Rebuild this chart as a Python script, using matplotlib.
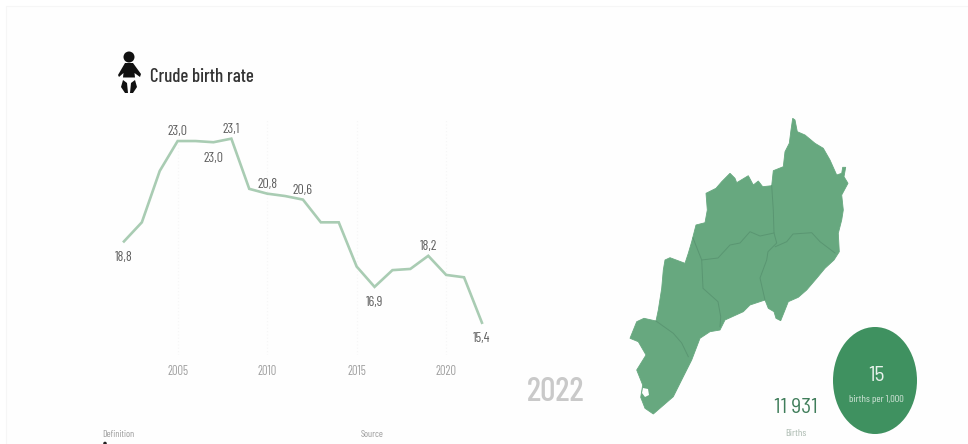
import matplotlib
matplotlib.use("Agg")
import matplotlib.pyplot as plt
from matplotlib import font_manager as fm
from matplotlib.patches import Polygon, Ellipse, Circle, Rectangle

# ---- data ----
years = list(range(2002, 2023))
birth_rate = [18.8, 19.6, 21.75, 23.0, 23.0, 22.95, 23.1, 21.0, 20.8, 20.7, 20.55,
              19.6, 19.6, 17.75, 16.9, 17.6, 17.65, 18.2, 17.4, 17.3, 15.4]
labelled = {2002: ("18,8", -1), 2005: ("23,0", 1), 2007: ("23,0", -1), 2008: ("23,1", 1),
            2010: ("20,8", 1), 2012: ("20,6", 1), 2016: ("16,9", -1), 2019: ("18,2", 1),
            2022: ("15,4", -1)}
tick_years = [2005, 2010, 2015, 2020]
title = "Crude birth rate"
year_label = "2022"
births = "11 931"
births_caption = "Births"
rate = "15"
rate_caption = "births per 1,000"
footers = ["Definition", "Source"]

# region outline and inner borders (geographic shape, picture coordinates)
outline = [(792.7,118.3),(795,120),(797.3,131.7),(805,135),(815,143.3),(823.3,148.3),(830,160),
           (836.7,175),(841.7,173.3),(842.7,167.3),(845.7,167.3),(844,176.7),(848,183.3),(841.7,195),
           (843.3,210),(841.7,220),(838.3,233.3),(839.3,251.7),(834,260),(825,268.3),(816.7,278.3),
           (806.7,290),(798.3,297.3),(788.3,301.7),(785,310),(780.7,320.7),(776,318.3),(774,311.7),
           (768.3,308.3),(765,300),(750,305),(743.3,311.7),(725,320),(720,330),(710,331.7),(700,338.3),
           (691.7,360),(683.3,376.7),(673.3,396.7),(653.3,414),(645,408.3),(640.7,397.3),(642.7,385),
           (636.7,370),(646,355),(638.3,341.7),(630,338.3),(636.7,321.7),(644,318.3),(656,321),
           (658.3,310),(661.7,288.3),(663.3,270),(665,260),(670,257.7),(685,263.3),(688.3,253.3),
           (691.7,241.7),(696,225),(705,222.7),(707.3,210),(706,193.3),(716,188.3),(721.7,181.7),
           (730,173.3),(735,178.3),(736.7,182.7),(748.3,175.7),(753.3,185),(758.3,181),(762.7,186.7),
           (771.7,185.7),(773.3,170.7),(783.3,166.7),(785,151.7),(789.3,143.3),(791,130)]
borders = [
    [(771.7,185.7),(773.3,210),(774,233),(776.7,243),(768,251.7),(766.7,260),(760,278),(765,300)],
    [(693,238),(701.7,260),(718,258),(730,245),(740,243),(750,231.7),(760,236),(774,233)],
    [(775.3,246.7),(786.7,241.7),(793,234),(811.7,232.7),(820,241.7),(835,253)],
    [(701.7,260),(703,288.3),(718,301.7),(720.7,316.7),(720,326.7)],
    [(656,321),(673.3,333.3),(681.7,343),(688.3,356.7)],
]
notch = [(643,388),(648,389),(649,395),(645,397),(642,393)]

W, H = 968, 444
names = {f.name for f in fm.fontManager.ttflist}
face = next((n for n in ["Barlow Condensed", "Roboto Condensed", "Oswald", "Roboto"] if n in names), "DejaVu Sans")
face_wide = "Barlow Semi Condensed" if "Barlow Semi Condensed" in names else face
plt.rcParams["font.family"] = [face, "DejaVu Sans"]

fig = plt.figure(figsize=(W / 100, H / 100), dpi=100, facecolor="white")

# overlay in picture coordinates
bg = fig.add_axes([0, 0, 1, 1])
bg.set_xlim(0, W); bg.set_ylim(H, 0); bg.axis("off")
bg.add_patch(Rectangle((6, 6), W, H, fc="#fefefe", ec="#f6f6f6", lw=0.8))

# line chart
L, R, T, B = 115, 490, 120, 355
ax = fig.add_axes([L / W, 1 - B / H, (R - L) / W, (B - T) / H], facecolor="none")
ax.set_xlim(2001.5, 2022.45)
ax.set_ylim(14.05, 23.88)
for s in ax.spines.values():
    s.set_visible(False)
ax.set_xticks(tick_years)
ax.set_xticklabels([str(y) for y in tick_years], color="#a0a0a0", fontsize=9)
ax.tick_params(axis="x", length=0, pad=7)
ax.set_yticks([])
ax.grid(axis="x", color="#f6f6f6", lw=0.8, ls=(0, (1, 2)))
ax.plot(years, birth_rate, color="#a9ccb3", lw=1.9, solid_joinstyle="miter")
for yr, (txt, side) in labelled.items():
    v = birth_rate[years.index(yr)]
    ax.annotate(txt, (yr, v), xytext=(0, 2.2 if side > 0 else -6.8), textcoords="offset points",
                ha="center", va="bottom" if side > 0 else "top", color="#5e5e5e", fontsize=10)

# title and icon
bg.text(150, 77, title, fontsize=13.6, color="#333333", va="center", ha="left", fontweight="medium")
bg.add_patch(Circle((129, 57), 5.5, fc="#111111", ec="none"))
bg.add_patch(Polygon([(125, 63), (133, 63), (141, 74), (140, 77), (134.5, 73), (135, 77.5), (123, 77.5),
                      (123.5, 73), (119, 77), (118, 75)], fc="#111111", ec="none"))
bg.add_patch(Polygon([(123, 80), (127, 83), (128, 93), (125, 93), (121, 87)], fc="#111111", ec="none"))
bg.add_patch(Polygon([(135, 80), (131, 83), (130, 93), (133, 93), (137, 87)], fc="#111111", ec="none"))

# map
bg.add_patch(Polygon(outline, closed=True, fc="#67a87f", ec="#67a87f", lw=0.6))
for b in borders:
    xs, ys = zip(*b)
    bg.plot(xs, ys, color="#5a9672", lw=0.7)
bg.add_patch(Polygon(notch, closed=True, fc="white", ec="none"))

# figures
bg.text(556, 392, year_label, fontsize=24.5, color="#c9c9c9", ha="center", va="center", fontweight="medium")
bg.text(796, 407, births, fontsize=15.5, color="#3f7d5a", ha="center", va="center", family=[face_wide, "DejaVu Sans"])
bg.text(796, 433, births_caption, fontsize=7.5, color="#a9b8ae", ha="center", va="center")
bg.add_patch(Ellipse((875, 380.5), 84, 107, fc="#3f9160", ec="none"))
bg.text(876, 375, rate, fontsize=15.5, color="#e8f2ec", ha="center", va="center", family=[face_wide, "DejaVu Sans"])
bg.text(876, 399, rate_caption, fontsize=7.5, color="#d5e6db", ha="center", va="center")

# footer
bg.text(102, 434, footers[0], fontsize=7, color="#9a9a9a", ha="left", va="center")
bg.text(361, 434, footers[1], fontsize=7, color="#9a9a9a", ha="left", va="center")
bg.add_patch(Circle((105, 443.5), 1.8, fc="#222222", ec="none"))

fig.savefig("out.png", dpi=100, facecolor="white")
